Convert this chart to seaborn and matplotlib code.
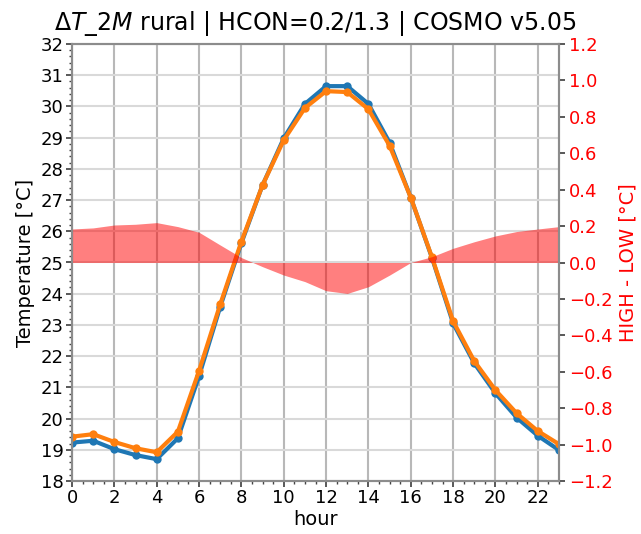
import numpy as np
import pandas as pd
import matplotlib
matplotlib.use("Agg")
import matplotlib.pyplot as plt
from matplotlib.ticker import AutoMinorLocator, MultipleLocator
import seaborn as sns

hours = list(range(24))
t_low = [19.23, 19.29, 19.02, 18.83, 18.70, 19.37, 21.36, 23.58, 25.62, 27.48,
         28.98, 30.08, 30.65, 30.65, 30.08, 28.84, 27.08, 25.15, 23.05, 21.77,
         20.81, 20.03, 19.45, 18.99]
t_high = [19.42, 19.50, 19.25, 19.05, 18.92, 19.58, 21.53, 23.66, 25.67, 27.48,
          28.92, 29.95, 30.49, 30.46, 29.91, 28.74, 27.08, 25.17, 23.12, 21.84,
          20.91, 20.17, 19.60, 19.18]
diff = [0.184, 0.19, 0.206, 0.21, 0.219, 0.197, 0.166, 0.096, 0.027, -0.023,
        -0.069, -0.105, -0.155, -0.17, -0.133, -0.069, 0.0, 0.032, 0.078, 0.114,
        0.146, 0.17, 0.184, 0.197]

sns.set_theme(style="ticks")
plt.rcParams['font.family'] = ['DejaVu Sans']
plt.rcParams['text.color'] = 'black'
plt.rcParams['axes.labelcolor'] = 'black'
plt.rcParams['xtick.color'] = 'black'
plt.rcParams['ytick.color'] = 'black'

df = pd.DataFrame({"hour": hours * 2,
                   "T": t_low + t_high,
                   "run": ["LOW"] * 24 + ["HIGH"] * 24})

fig = plt.figure(figsize=(6.41, 5.34), dpi=100)
ax = fig.add_axes([72 / 641, 1 - 481 / 534, (559 - 72) / 641, (481 - 44) / 534])

sns.lineplot(data=df, x="hour", y="T", hue="run", palette=["#1f77b4", "#ff7f0e"],
             marker="o", markersize=6, markeredgewidth=0, linewidth=3,
             legend=False, ax=ax)

ax2 = ax.twinx()
ax2.fill_between(hours, 0, diff, color="red", alpha=0.5, linewidth=0)

ax.set_xlim(0, 23)
ax.set_ylim(18, 32)
ax2.set_ylim(-1.2, 1.2)
ax.xaxis.set_major_locator(MultipleLocator(2))
ax.yaxis.set_major_locator(MultipleLocator(1))
ax.xaxis.set_minor_locator(AutoMinorLocator(4))
ax.yaxis.set_minor_locator(AutoMinorLocator(5))
ax2.yaxis.set_major_locator(MultipleLocator(0.2))

ax.grid(axis="x", color="#b8b8b8", linewidth=1.5)
ax.grid(axis="y", color="#d9d9d9", linewidth=1.5)
ax2.grid(False)

for a in (ax, ax2):
    for s in a.spines.values():
        s.set_color("#8c8c8c")
        s.set_linewidth(1.5)

ax.tick_params(axis="both", which="major", labelsize=13, length=4, color="#444444", pad=2)
ax.tick_params(axis="both", which="minor", length=2, color="#444444")
ax2.tick_params(axis="y", which="major", labelsize=13, labelcolor="red", length=4,
                color="#444444", pad=3)

ax.set_xlabel("hour", fontsize=14, labelpad=2)
ax.set_ylabel("Temperature [°C]", fontsize=14, labelpad=4)
ax2.set_ylabel("HIGH - LOW [°C]", fontsize=14, color="red", labelpad=4)
ax.set_title(r"$\Delta T\_2M$ rural | HCON=0.2/1.3 | COSMO v5.05", fontsize=17, pad=10)

fig.savefig("out.png", dpi=100)
